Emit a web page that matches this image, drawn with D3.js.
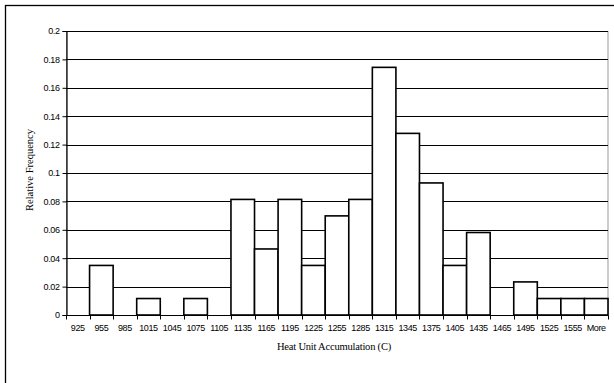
<!DOCTYPE html>
<html>
<head>
<meta charset="utf-8">
<script src="https://cdn.jsdelivr.net/npm/d3@7"></script>
<style>
  html, body { margin: 0; padding: 0; background: #fff; }
  svg { display: block; }
</style>
</head>
<body>
<svg id="chart" width="614" height="383"></svg>
<script>
// Histogram bins (upper bound of each bin) and their relative frequencies
const bins = ["925","955","985","1015","1045","1075","1105","1135","1165","1195","1225",
              "1255","1285","1315","1345","1375","1405","1435","1465","1495","1525","1555","More"];
const relFreq = [0, 0.0349, 0, 0.0116, 0, 0.0116, 0, 0.0814, 0.0465, 0.0814, 0.0349,
                 0.0698, 0.0814, 0.1744, 0.1279, 0.093, 0.0349, 0.0581, 0, 0.0233, 0.0116, 0.0116, 0.0116];
const yTicks = [0, 0.02, 0.04, 0.06, 0.08, 0.1, 0.12, 0.14, 0.16, 0.18, 0.2];

const svg = d3.select("#chart");
const W = 614, H = 383;
const plot = { left: 66, top: 31, right: 608, bottom: 315 };

// Outer chart frame
svg.append("rect")
  .attr("x", 5.5).attr("y", 5.5)
  .attr("width", W + 10).attr("height", H + 10)
  .attr("fill", "#fff").attr("stroke", "#000").attr("stroke-width", 1.3);

const x = d3.scaleBand().domain(bins).range([plot.left, plot.right]).padding(0);
const y = d3.scaleLinear().domain([0, 0.2]).range([plot.bottom, plot.top]);

// Plot area frame
svg.append("rect")
  .attr("x", plot.left + 0.5).attr("y", plot.top + 0.5)
  .attr("width", plot.right - plot.left - 0.5).attr("height", plot.bottom - plot.top)
  .attr("fill", "#fff").attr("stroke", "#999").attr("stroke-width", 1);

// Horizontal gridlines
svg.append("g").selectAll("line")
  .data(yTicks.filter(d => d > 0))
  .join("line")
  .attr("x1", plot.left).attr("x2", plot.right)
  .attr("y1", d => Math.round(y(d)) + 0.5).attr("y2", d => Math.round(y(d)) + 0.5)
  .attr("stroke", "#000").attr("stroke-width", 1);

// Bars
svg.append("g").selectAll("rect")
  .data(bins.map((b, i) => ({ bin: b, v: relFreq[i] })).filter(d => d.v > 0))
  .join("rect")
  .attr("x", d => x(d.bin))
  .attr("y", d => y(d.v))
  .attr("width", x.bandwidth())
  .attr("height", d => y(0) - y(d.v))
  .attr("fill", "#fff")
  .attr("stroke", "#000")
  .attr("stroke-width", 1.6);

// Y axis
const yAxis = d3.axisLeft(y).tickValues(yTicks).tickSize(4).tickPadding(3)
  .tickFormat(d => d === 0 ? "0" : String(+d.toFixed(2)));
const gy = svg.append("g").attr("transform", `translate(${plot.left + 0.5},0)`).call(yAxis);
gy.select(".domain").attr("stroke", "#000").attr("stroke-width", 1.2);
gy.selectAll(".tick line").attr("stroke", "#000");
gy.selectAll(".tick text")
  .attr("font-family", "'Liberation Sans', Arial, sans-serif")
  .attr("font-size", 9).attr("fill", "#000").attr("letter-spacing", -0.4);

// X axis with ticks at bin boundaries
const gx = svg.append("g").attr("transform", `translate(0,${plot.bottom + 0.5})`);
gx.append("line")
  .attr("x1", plot.left).attr("x2", plot.right)
  .attr("stroke", "#000").attr("stroke-width", 1.2);
gx.selectAll("line.tk")
  .data(bins.concat(["end"]))
  .join("line").attr("class", "tk")
  .attr("x1", (d, i) => Math.round(plot.left + i * x.bandwidth()) + 0.5)
  .attr("x2", (d, i) => Math.round(plot.left + i * x.bandwidth()) + 0.5)
  .attr("y1", 0).attr("y2", 4)
  .attr("stroke", "#000");
gx.selectAll("text")
  .data(bins)
  .join("text")
  .attr("x", d => x(d) + x.bandwidth() / 2)
  .attr("y", 15)
  .attr("text-anchor", "middle")
  .attr("font-family", "'Liberation Sans', Arial, sans-serif")
  .attr("font-size", 9).attr("letter-spacing", -0.4)
  .text(d => d);

// Axis titles
svg.append("text")
  .attr("x", 334).attr("y", 350)
  .attr("text-anchor", "middle")
  .attr("font-family", "'Liberation Serif', 'Times New Roman', serif")
  .attr("font-size", 10.5).attr("letter-spacing", -0.2)
  .text("Heat Unit Accumulation (C)");

svg.append("text")
  .attr("transform", `translate(33,170) rotate(-90)`)
  .attr("text-anchor", "middle")
  .attr("font-family", "'Liberation Serif', 'Times New Roman', serif")
  .attr("font-size", 10.5)
  .text("Relative Frequency");
</script>
</body>
</html>
